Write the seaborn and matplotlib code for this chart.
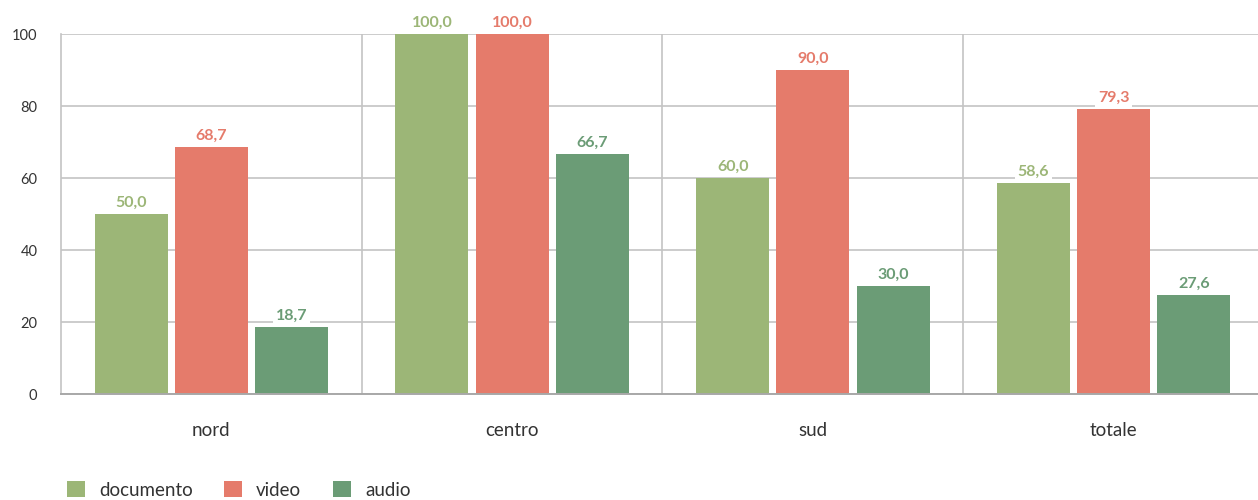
import matplotlib
matplotlib.use("Agg")
import matplotlib.pyplot as plt
from matplotlib.patches import Patch
import seaborn as sns
import pandas as pd

categories = ["nord", "centro", "sud", "totale"]
series = ["documento", "video", "audio"]
documento = [50.0, 100.0, 60.0, 58.6]
video = [68.7, 100.0, 90.0, 79.3]
audio = [18.7, 66.7, 30.0, 27.6]
y_ticks = [0, 20, 40, 60, 80, 100]

colors = {"documento": "#9cb677", "video": "#e57b6b", "audio": "#6b9c76"}

df = pd.DataFrame({
    "area": categories * 3,
    "tipo": ["documento"] * 4 + ["video"] * 4 + ["audio"] * 4,
    "valore": documento + video + audio,
})

sns.set_theme(style="white")
plt.rcParams["font.family"] = ["Lato", "DejaVu Sans"]

fig = plt.figure(figsize=(12.58, 5.0), dpi=100)
ax = fig.add_axes([61 / 1258, 106 / 500, 1203 / 1258, 360 / 500])

sns.barplot(data=df, x="area", y="valore", hue="tipo", order=categories,
            hue_order=series, palette=colors, gap=0.09, width=0.8,
            saturation=1, legend=False, linewidth=0, ax=ax)

ax.set_xlim(-0.5, 3.5)
ax.set_ylim(0, 100)
ax.set_yticks(y_ticks)
ax.set_yticklabels([str(t) for t in y_ticks])
ax.set_xticks(range(len(categories)))
ax.set_xticklabels(categories)
ax.set_xticks([0.5, 1.5, 2.5], minor=True)
ax.set_xlabel("")
ax.set_ylabel("")

ax.grid(False)
ax.yaxis.grid(True, color="#c4c4c4", linewidth=1.2)
ax.xaxis.grid(True, which="minor", color="#c4c4c4", linewidth=1.2)
ax.set_axisbelow(True)
for side in ["top", "right"]:
    ax.spines[side].set_visible(False)
ax.spines["left"].set_color("#c4c4c4")
ax.spines["left"].set_linewidth(1.2)
ax.spines["bottom"].set_color("#a8a8a8")
ax.spines["bottom"].set_linewidth(1.4)
ax.tick_params(axis="both", which="both", length=0)
ax.tick_params(axis="y", labelsize=10.5, labelcolor="#333333", pad=17)
ax.tick_params(axis="x", labelsize=13.5, labelcolor="#333333", pad=20)

for container, name in zip(ax.containers, series):
    labels = [f"{v:.1f}".replace(".", ",") for v in container.datavalues]
    ax.bar_label(container, labels=labels, padding=3, color=colors[name],
                 fontsize=11.5, fontweight="bold",
                 bbox=dict(boxstyle="square,pad=0.15", fc="white", ec="none"))

handles = [Patch(facecolor=colors[s], edgecolor="none", label=s) for s in series]
fig.legend(handles=handles, loc="center left", bbox_to_anchor=(50 / 1258, 1 - 490 / 500),
           ncol=3, frameon=False, fontsize=13.5, handlelength=0.95, handleheight=0.95,
           handletextpad=0.75, columnspacing=1.7, labelcolor="#333333")

fig.savefig("out.png", dpi=100)
